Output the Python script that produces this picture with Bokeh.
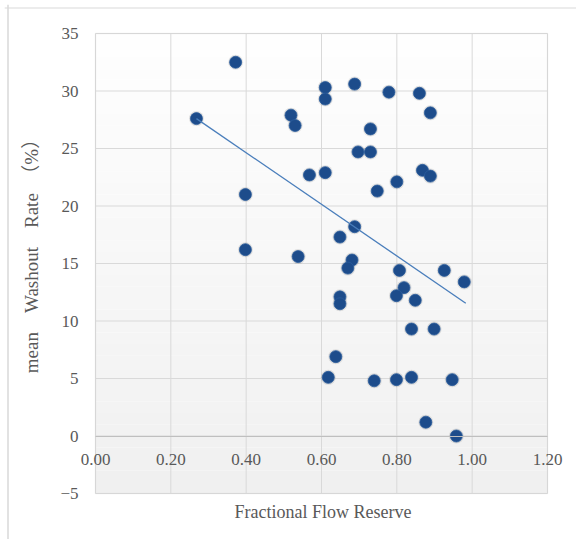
import numpy as np
from math import pi
from bokeh.plotting import figure
from bokeh.models import (FixedTicker, BoxAnnotation, Range1d, Label, Span,
                          CustomJSTickFormatter)
from bokeh.embed import file_html
from bokeh.resources import INLINE

# ---- data ----
ffr = [0.372, 0.268, 0.519, 0.530, 0.398, 0.398, 0.538, 0.610, 0.610, 0.688,
       0.779, 0.860, 0.889, 0.730, 0.697, 0.730, 0.568, 0.610, 0.868, 0.889,
       0.800, 0.748, 0.688, 0.649, 0.681, 0.670, 0.807, 0.926, 0.979, 0.819,
       0.799, 0.849, 0.649, 0.649, 0.839, 0.899, 0.638, 0.618, 0.740, 0.799,
       0.839, 0.947, 0.877, 0.958]
washout = [32.5, 27.6, 27.9, 27.0, 21.0, 16.2, 15.6, 30.3, 29.3, 30.6,
           29.9, 29.8, 28.1, 26.7, 24.7, 24.7, 22.7, 22.9, 23.1, 22.6,
           22.1, 21.3, 18.2, 17.3, 15.3, 14.6, 14.4, 14.4, 13.4, 12.9,
           12.2, 11.8, 12.1, 11.5, 9.3, 9.3, 6.9, 5.1, 4.8, 4.9,
           5.1, 4.9, 1.2, 0.0]
trend_x = [0.268, 0.983]
trend_y = [27.6, 11.55]

x_ticks = [0.0, 0.2, 0.4, 0.6, 0.8, 1.0, 1.2]
x_tick_labels = ["0.00", "0.20", "0.40", "0.60", "0.80", "1.00", "1.20"]
y_ticks = [-5, 0, 5, 10, 15, 20, 25, 30, 35]
y_tick_labels = ["\u22125", "0", "5", "10", "15", "20", "25", "30", "35"]

x_title = "Fractional Flow Reserve"
y_title = "mean\u3000Washout\u3000Rate\u3000\uff08%\uff09"

FONT = "'Liberation Serif', serif"
TXT = "#595959"
FS = "17px"

# ---- layout geometry (canvas pixels) ----
W, H = 576, 539
FL, FT = 4, 4                     # frame left / top inside canvas
PA_L, PA_R = 95, 547              # plot-area left/right (x = 0 .. 1.2)
PA_T, PA_B = 33, 493              # plot-area top/bottom (y = 35 .. -5)
XMIN, XMAX = x_ticks[0], x_ticks[-1]
YMIN, YMAX = y_ticks[0], y_ticks[-1]
sx = (PA_R - PA_L) / (XMAX - XMIN)
sy = (PA_B - PA_T) / (YMAX - YMIN)
x_lo = XMIN - (PA_L - FL) / sx
x_hi = XMAX + (W - PA_R) / sx
y_hi = YMAX + (PA_T - FT) / sy
y_lo = YMIN - (H - PA_B) / sy

p = figure(width=W, height=H, output_backend="svg", toolbar_location=None,
           x_range=Range1d(x_lo, x_hi), y_range=Range1d(y_lo, y_hi),
           min_border_left=FL, min_border_right=0, min_border_top=FT,
           min_border_bottom=0)
p.background_fill_color = "#ffffff"
p.border_fill_color = "#ffffff"
p.outline_line_color = None
p.grid.visible = False

# outer chart border (top and left edges only visible)
p.add_layout(Span(location=x_lo + 3.5 / sx, dimension="height",
                  line_color="#d9d9d9", line_width=1.5, level="image"))
p.add_layout(Span(location=y_hi - 3.5 / sy, dimension="width",
                  line_color="#d9d9d9", line_width=1.2, level="image"))

# gradient-like plot-area background
nb = 40
edges = np.linspace(YMAX, YMIN, nb + 1)
for i in range(nb):
    t = i / (nb - 1)
    c = int(round(254 - t * 14))
    p.add_layout(BoxAnnotation(left=XMIN, right=XMAX, top=edges[i],
                               bottom=edges[i + 1],
                               fill_color="#%02x%02x%02x" % (c, c, c),
                               fill_alpha=1.0, line_alpha=0, level="image"))

# grid lines confined to the plot area
p.segment(x0=x_ticks, y0=[YMIN] * len(x_ticks), x1=x_ticks,
          y1=[YMAX] * len(x_ticks), line_color="#d9d9d9", line_width=1,
          level="underlay")
p.segment(x0=[XMIN] * len(y_ticks), y0=y_ticks, x1=[XMAX] * len(y_ticks),
          y1=y_ticks, line_color="#d9d9d9", line_width=1, level="underlay")

tick_code = """
let best = 0, bd = Infinity;
for (let i = 0; i < tv.length; i++) {
  const d = Math.abs(tv[i] - tick);
  if (d < bd) { bd = d; best = i; }
}
return tl[best];
"""

# x axis along y = 0
p.xaxis.fixed_location = 0
p.xaxis.bounds = (XMIN, XMAX)
p.xaxis.ticker = FixedTicker(ticks=x_ticks)
p.xaxis.formatter = CustomJSTickFormatter(
    args=dict(tv=x_ticks, tl=x_tick_labels), code=tick_code)
p.xaxis.axis_line_color = "#bfbfbf"
p.xaxis.major_tick_line_color = None
p.xaxis.minor_tick_line_color = None
p.xaxis.major_label_standoff = 12
p.xaxis.major_label_text_font = FONT
p.xaxis.major_label_text_font_size = FS
p.xaxis.major_label_text_color = TXT

# y axis along x = 0
p.yaxis.fixed_location = 0
p.yaxis.bounds = (YMIN, YMAX)
p.yaxis.ticker = FixedTicker(ticks=y_ticks)
p.yaxis.formatter = CustomJSTickFormatter(
    args=dict(tv=y_ticks, tl=y_tick_labels), code=tick_code)
p.yaxis.axis_line_color = None
p.yaxis.major_tick_line_color = None
p.yaxis.minor_tick_line_color = None
p.yaxis.major_label_standoff = 11
p.yaxis.major_label_text_font = FONT
p.yaxis.major_label_text_font_size = FS
p.yaxis.major_label_text_color = TXT

# plot-area outline
p.add_layout(BoxAnnotation(left=XMIN, right=XMAX, top=YMAX, bottom=YMIN,
                           fill_alpha=0, line_color="#d4d4d4", line_width=1.5,
                           level="underlay"))

# titles
p.add_layout(Label(x=XMIN + (322.5 - PA_L) / sx, y=YMIN - 18 / sy,
                   text=x_title, text_font=FONT, text_font_size="18px",
                   text_color=TXT, text_align="center",
                   text_baseline="middle"))
p.add_layout(Label(x=XMIN - 64 / sx, y=YMAX - (251 - PA_T) / sy,
                   text=y_title, angle=pi / 2,
                   text_font=FONT + ", 'Noto Sans CJK JP'",
                   text_font_size="19px", text_color=TXT,
                   text_align="center", text_baseline="middle"))

# points with soft shadow
p.scatter(ffr, washout, size=15, marker="circle", fill_color="#000000",
          fill_alpha=0.10, line_color=None)
p.scatter(ffr, washout, size=12, marker="circle", fill_color="#1d4c8b",
          line_color="#2a5c9c", line_width=0.8)

# trend line
p.line(trend_x, trend_y, line_color="#4a7ebb", line_width=1.3)

open("out.html", "w").write(file_html(p, INLINE))
